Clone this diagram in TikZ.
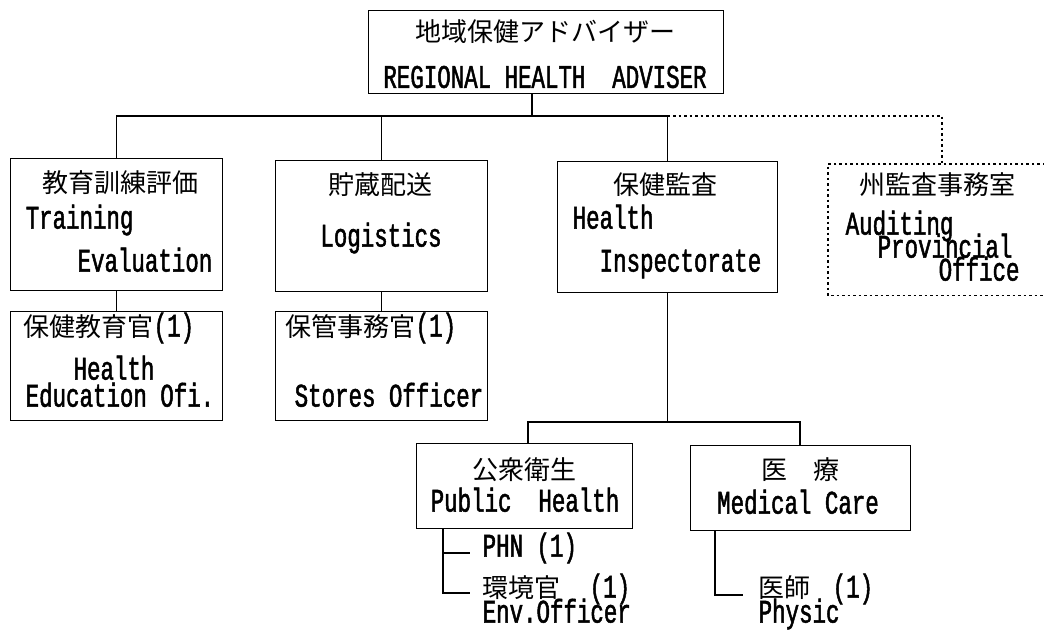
\documentclass[tikz,border=0pt]{standalone}
\usepackage{fontspec}
\setmainfont{Liberation Mono}[FakeStretch=0.68,FakeBold=1.5]
\newfontfamily\jpf{Noto Sans CJK JP}
\newcommand\jp[1]{{\fontsize{26}{26}\selectfont\jpf #1}}
\begin{document}
\begin{tikzpicture}[x=1pt,y=-1pt,line width=1.4pt,
  box/.style={draw,inner sep=0,anchor=north west},
  lt/.style={inner sep=0,font=\fontsize{33}{33}\selectfont},
  jt/.style={inner sep=0,font=\fontsize{26}{26}\selectfont\jpf},
  dotl/.style={dash pattern=on 2.5pt off 3pt}]
\useasboundingbox (0,0) rectangle (1044,631);
% boxes
\node[box,minimum width=355,minimum height=83] (top) at (368,10) {};
\node[box,minimum width=212,minimum height=132] (tr) at (10,158) {};
\node[box,minimum width=212,minimum height=131] (lg) at (275,160) {};
\node[box,minimum width=220,minimum height=131] (hi) at (557,161) {};
\node[inner sep=0,anchor=north west,minimum width=216,minimum height=130] (au) at (828,164) {};
\draw[dotl] (au.north east) -- (au.north west) -- (au.south west) -- (au.south east);
\node[box,minimum width=212,minimum height=109] (heo) at (10,311) {};
\node[box,minimum width=212,minimum height=109] (st) at (275,311) {};
\node[box,minimum width=216,minimum height=85] (ph) at (416,443) {};
\node[box,minimum width=220,minimum height=85] (mc) at (690,445) {};
% texts
\node[jt] (t1) at (545,32) {地域保健アドバイザー};
\node[lt] (t2) at (545,77) {REGIONAL HEALTH\ \ ADVISER};
\node[jt] (tr1) at (120,183) {教育訓練評価};
\node[lt,anchor=mid west] (tr2) at (25,226) {Training};
\node[lt,anchor=mid east] (tr3) at (213,269) {Evaluation};
\node[jt] (lg1) at (380,185) {貯蔵配送};
\node[lt,anchor=mid] (lg2) at (381,244) {Logistics};
\node[jt] (hi1) at (665,185) {保健監査};
\node[lt,anchor=mid west] (hi2) at (572,226) {Health};
\node[lt,anchor=mid east] (hi3) at (762,269) {Inspectorate};
\node[jt] (au1) at (937,185) {州監査事務室};
\node[lt,anchor=mid west] (au2) at (845,232) {Auditing};
\node[lt,anchor=mid west] (au3) at (877,255) {Provincial};
\node[lt,anchor=mid west] (au4) at (938,278) {Office};
\node[lt,anchor=west] (heo1) at (23,328) {\jp{保健教育官}(1)};
\node[lt,anchor=mid] (heo2) at (114,377) {Health};
\node[lt,anchor=mid west] (heo3) at (25,404) {Education Ofi.};
\node[lt,anchor=west] (st1) at (285,328) {\jp{保管事務官}(1)};
\node[lt,anchor=mid west] (st2) at (294,404) {Stores Officer};
\node[jt] (ph1) at (524,470) {公衆衛生};
\node[lt,anchor=mid] (ph2) at (525,509) {Public\ \ Health};
\node[jt] (mc1) at (800,470) {医　療};
\node[lt,anchor=mid] (mc2) at (798,511) {Medical Care};
\node[lt,anchor=mid west] (phn) at (482,554) {PHN (1)};
\node[lt,anchor=west] (env1) at (482,589) {\jp{環境官}\hspace{29pt}(1)};
\node[lt,anchor=mid west] (env2) at (482,620) {Env.Officer};
\node[lt,anchor=west] (doc1) at (758,589) {\jp{医師}\hspace{22pt}(1)};
\node[lt,anchor=mid west] (doc2) at (758,620) {Physic};
% connectors
\coordinate (drop) at (532,116);
\coordinate (busL) at (tr.north |- drop);
\coordinate (busM) at (hi.north |- drop);
\coordinate (busR) at (942,116);
\draw (drop |- top.south) -- (drop);
\draw (tr.north) -- (busL) -- (busM) -- (hi.north);
\draw (lg.north) -- (lg.north |- busL);
\draw[dotl] (busM) -- (busR) -- (busR |- au.north);
\draw (tr.south) -- (heo.north);
\draw (lg.south) -- (st.north);
\coordinate (b3l) at (528,422);
\coordinate (b3r) at (800,422);
\draw (hi.south) -- (hi.south |- b3l);
\draw (b3l |- ph.north) -- (b3l) -- (b3r) -- (b3r |- mc.north);
\coordinate (p0) at (443,593);
\coordinate (p1) at (470,593);
\coordinate (p2) at (470,553);
\draw (p0 |- ph.south) -- (p0) -- (p1);
\draw (p0 |- p2) -- (p2);
\coordinate (m0) at (715,595);
\coordinate (m1) at (743,595);
\draw (m0 |- mc.south) -- (m0) -- (m1);
\end{tikzpicture}
\end{document}
